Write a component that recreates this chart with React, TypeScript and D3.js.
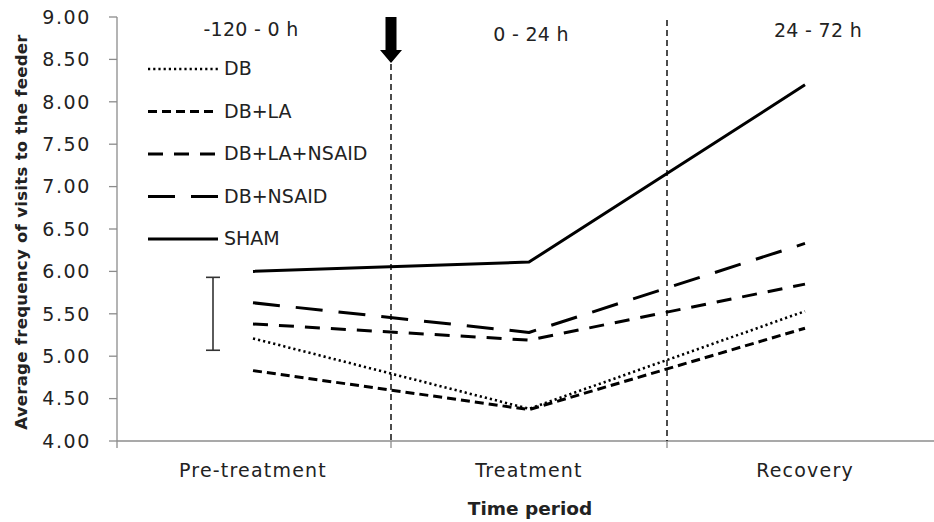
import React from "react";
import * as d3 from "d3";

const categories = ["Pre-treatment", "Treatment", "Recovery"];
const periodLabels = ["-120 - 0 h", "0 - 24 h", "24 - 72 h"];
const yTicks = [4, 4.5, 5, 5.5, 6, 6.5, 7, 7.5, 8, 8.5, 9];

const seriesNames = ["DB", "DB+LA", "DB+LA+NSAID", "DB+NSAID", "SHAM"];
const dbValues = [5.21, 4.38, 5.53];
const dbLaValues = [4.83, 4.37, 5.33];
const dbLaNsaidValues = [5.38, 5.19, 5.85];
const dbNsaidValues = [5.63, 5.28, 6.33];
const shamValues = [6.0, 6.11, 8.2];
const errorBar = [5.07, 5.93];

const seriesValues = [dbValues, dbLaValues, dbLaNsaidValues, dbNsaidValues, shamValues];
const dashes = ["2.2,3", "9,5", "15,11", "27,16", null];
const widths = [2.6, 3, 3, 3, 3];

const W = 934;
const H = 522;
const font = "'DejaVu Sans', Verdana, sans-serif";

export default function App() {
  const x = d3.scaleBand<string>().domain(categories).range([115, 943]).padding(0);
  const y = d3.scaleLinear().domain([4, 9]).range([441, 17]);
  const cx = (c: string) => (x(c) as number) + x.bandwidth() / 2;
  const line = d3
    .line<number>()
    .x((_, i) => cx(categories[i]))
    .y((v) => y(v));

  const boundaries = [x(categories[1]) as number, x(categories[2]) as number];
  const legendY = (i: number) => 75 + i * 42.5;
  const periodY = [36, 41, 37];
  const periodDx = [-2, 2, 13];

  return (
    <svg width={W} height={H} style={{ position: "absolute", left: 0, top: 0, background: "#fff" }}>
      <rect x={0} y={0} width={W} height={H} fill="#fff" />
      {/* y axis */}
      <line x1={117} x2={117} y1={y(9)} y2={y(4)} stroke="#8c8c8c" strokeWidth={1.3} />
      {yTicks.map((t) => (
        <g key={t}>
          <line x1={109} x2={117} y1={y(t)} y2={y(t)} stroke="#8c8c8c" strokeWidth={1.3} />
          <text
            x={91}
            y={y(t)}
            dy="0.36em"
            textAnchor="end"
            fontFamily={font}
            fontSize={19}
            letterSpacing={1.6}
            fill="#222"
          >
            {t.toFixed(2)}
          </text>
        </g>
      ))}
      {/* x axis */}
      <line x1={117} x2={W} y1={y(4)} y2={y(4)} stroke="#8c8c8c" strokeWidth={1.3} />
      {[117, ...boundaries].map((b, i) => (
        <line key={i} x1={b} x2={b} y1={y(4)} y2={y(4) + 7} stroke="#8c8c8c" strokeWidth={1.3} />
      ))}
      {categories.map((c) => (
        <text
          key={c}
          x={cx(c)}
          y={477}
          textAnchor="middle"
          fontFamily={font}
          fontSize={19}
          letterSpacing={1.2}
          fill="#222"
        >
          {c}
        </text>
      ))}
      <text
        x={530}
        y={515}
        textAnchor="middle"
        fontFamily={font}
        fontSize={18.5}
        fontWeight="bold"
        fill="#222"
      >
        Time period
      </text>
      <text
        transform={`translate(27,${232}) rotate(-90)`}
        textAnchor="middle"
        fontFamily={font}
        fontSize={16.5}
        fontWeight="bold"
        letterSpacing={0.3}
        fill="#222"
      >
        Average frequency of visits to the feeder
      </text>

      {/* vertical dashed boundaries */}
      <line x1={boundaries[0]} x2={boundaries[0]} y1={64} y2={y(4)} stroke="#000" strokeWidth={1.4} strokeDasharray="6,4" />
      <line x1={boundaries[1]} x2={boundaries[1]} y1={20} y2={y(4)} stroke="#000" strokeWidth={1.4} strokeDasharray="6,4" />

      {/* arrow */}
      <path
        d={`M${boundaries[0] - 5.5},17 L${boundaries[0] + 5.5},17 L${boundaries[0] + 5.5},50 L${boundaries[0] + 11},50 L${boundaries[0]},63 L${boundaries[0] - 11},50 L${boundaries[0] - 5.5},50 Z`}
        fill="#000"
      />

      {/* period labels */}
      {periodLabels.map((p, i) => (
        <text
          key={p}
          x={cx(categories[i]) + periodDx[i]}
          y={periodY[i]}
          textAnchor="middle"
          fontFamily={font}
          fontSize={19}
          letterSpacing={0.3}
          fill="#222"
        >
          {p}
        </text>
      ))}

      {/* error bar */}
      <g stroke="#333" strokeWidth={1.6}>
        <line x1={213} x2={213} y1={y(errorBar[0])} y2={y(errorBar[1])} />
        <line x1={206} x2={220} y1={y(errorBar[0])} y2={y(errorBar[0])} />
        <line x1={206} x2={220} y1={y(errorBar[1])} y2={y(errorBar[1])} />
      </g>

      {/* series */}
      {seriesValues.map((vals, i) => (
        <path
          key={seriesNames[i]}
          d={line(vals) as string}
          fill="none"
          stroke="#000"
          strokeWidth={widths[i]}
          strokeDasharray={dashes[i] ?? undefined}
          strokeLinejoin="round"
        />
      ))}

      {/* legend */}
      {seriesNames.map((n, i) => (
        <g key={n}>
          <line
            x1={148}
            x2={218}
            y1={legendY(i) - 6}
            y2={legendY(i) - 6}
            stroke="#000"
            strokeWidth={widths[i]}
            strokeDasharray={dashes[i] ?? undefined}
          />
          <text x={224} y={legendY(i)} fontFamily={font} fontSize={19} fill="#222">
            {n}
          </text>
        </g>
      ))}
    </svg>
  );
}
